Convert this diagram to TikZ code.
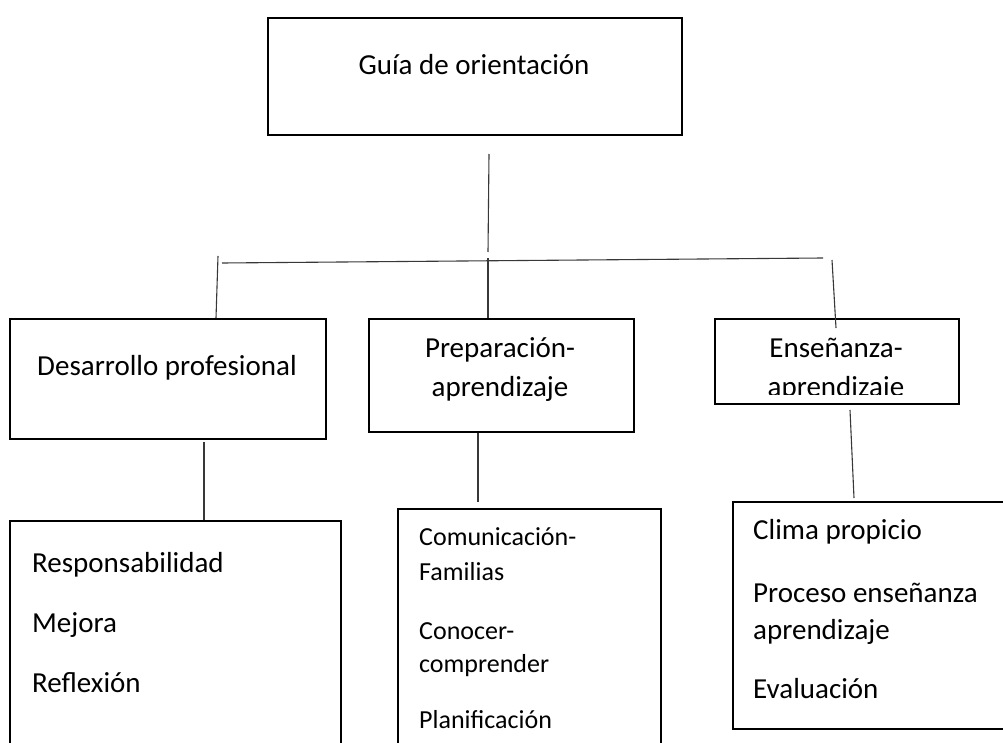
\documentclass[tikz,border=0pt]{standalone}
\usepackage{fontspec}
\setmainfont{Carlito}
\begin{document}
\begin{tikzpicture}[x=1pt,y=-1pt,
  box/.style={draw=black, line width=2.2pt, rectangle, anchor=north west, inner sep=0pt},
  conn/.style={draw=black!78, line width=1.1pt},
  lbl/.style={anchor=base west, inner sep=0pt, font=\fontsize{29}{35}\selectfont},
  lbls/.style={anchor=base west, inner sep=0pt, font=\fontsize{26}{31}\selectfont},
  ctr/.style={anchor=base, inner sep=0pt, font=\fontsize{29}{35}\selectfont}]
\useasboundingbox (0,0) rectangle (1003,743);
\clip (0,0) rectangle (1003,743);
% boxes
\node[box, minimum width=414pt, minimum height=117pt] (guia) at (267,17) {};
\node[box, minimum width=316pt, minimum height=120pt] (desa) at (9,318) {};
\node[box, minimum width=265pt, minimum height=113pt] (prep) at (368,318) {};
\node[box, minimum width=244pt, minimum height=85pt] (ense) at (714,318) {};
\node[box, minimum width=331pt, minimum height=260pt] (resp) at (9,520) {};
\node[box, minimum width=263pt, minimum height=260pt] (comu) at (397,508) {};
\node[box, minimum width=300pt, minimum height=227pt] (clim) at (732,501) {};
% texts
\node[ctr] (tguia) at (474,75) {Guía de orientación};
\node[ctr] (tdesa) at (167,375) {Desarrollo profesional};
\node[ctr] (tprep1) at (500,357) {Preparación-};
\node[ctr] (tprep2) at (500,396) {aprendizaje};
\node[ctr] (tense1) at (836,357) {Enseñanza-};
\begin{scope}
\clip (716,320) rectangle (956,394);
\node[ctr] (tense2) at (836,396) {aprendizaje};
\end{scope}
\node[lbl] (r1) at (32,572) {Responsabilidad};
\node[lbl] (r2) at (32,632) {Mejora};
\node[lbl] (r3) at (32,692) {Reflexión};
\node[lbls] (c1) at (419,545) {Comunicación-};
\node[lbls] (c2) at (419,580) {Familias};
\node[lbls] (c3) at (419,639) {Conocer-};
\node[lbls] (c4) at (419,672) {comprender};
\node[lbls] (c5) at (419,728) {Planificación};
\node[lbl] (e1) at (753,539) {Clima propicio};
\node[lbl] (e2) at (753,602) {Proceso enseñanza};
\node[lbl] (e3) at (753,639) {aprendizaje};
\node[lbl] (e4) at (753,698) {Evaluación};
% connectors
\coordinate (a1) at (489,154);
\coordinate (a2) at (488,252);
\coordinate (h1) at (222,263);
\coordinate (h2) at (823,258);
\coordinate (l1) at (218,256);
\coordinate (m1) at (488,258);
\coordinate (n1) at (832,260);
\coordinate (p1) at (204,442);
\coordinate (q2) at (478,502);
\coordinate (s1) at (850,410);
\coordinate (s2) at (854,498);
\draw[conn] (a1) -- (a2);
\draw[conn] (h1) -- (h2);
\draw[conn] (l1) -- ([xshift=207pt]desa.north west);
\draw[conn] (m1) -- ([xshift=120pt]prep.north west);
\draw[conn] (n1) -- ([xshift=122pt,yshift=-10pt]ense.north west);
\draw[conn] (p1) -- ([xshift=195pt]resp.north west);
\draw[conn] ([xshift=110pt]prep.south west) -- (q2);
\draw[conn] (s1) -- (s2);
\end{tikzpicture}
\end{document}
